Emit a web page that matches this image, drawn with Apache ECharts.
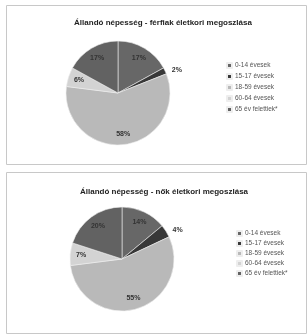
<!DOCTYPE html>
<html>
<head>
<meta charset="utf-8">
<script src="https://cdn.jsdelivr.net/npm/echarts@6/dist/echarts.min.js"></script>
<style>
    html, body { margin: 0; padding: 0; background: #fff; }
    #chart { width: 307px; height: 334px; }
</style>
</head>
<body>
<div id="chart"></div>
<script>
const korcsoportok = ['0-14 évesek', '15-17 évesek', '18-59 évesek', '60-64 évesek', '65 év felettiek*'];
const ferfiak = [17, 2, 58, 6, 17];
const nok = [14, 4, 55, 7, 20];
const szinek = ['#676767', '#383838', '#b9b9b9', '#d3d3d3', '#626262'];

function szeletek(ertekek) {
    return ertekek.map((v, i) => ({
        value: v,
        name: korcsoportok[i],
        itemStyle: { color: szinek[i] },
        label: { show: v < 5 }
    }));
}

function cimkek(ertekek) {
    return ertekek.map((v, i) => ({
        value: v,
        name: korcsoportok[i],
        label: { show: v >= 5 }
    }));
}

function pieSorozat(ertekek, center) {
    return [
        {
            type: 'pie',
            center: center,
            radius: 52,
            startAngle: 90,
            clockwise: true,
            data: szeletek(ertekek),
            label: {
                position: 'outside',
                formatter: '{c}%',
                fontSize: 7,
                fontWeight: 'bold',
                color: '#333',
                distance: 2
            },
            labelLine: { show: false, length: 2, length2: 0 },
            itemStyle: { borderColor: '#eee', borderWidth: 0.6 },
            emphasis: { disabled: true },
            silent: true
        },
        {
            type: 'pie',
            center: center,
            radius: 76,
            startAngle: 90,
            data: cimkek(ertekek),
            itemStyle: { color: 'transparent' },
            label: {
                position: 'inside',
                formatter: '{c}%',
                fontSize: 7,
                fontWeight: 'bold',
                color: '#333'
            },
            labelLine: { show: false },
            emphasis: { disabled: true },
            silent: true,
            z: 5
        }
    ];
}

const myChart = echarts.init(document.getElementById('chart'));
const option = {
    animation: false,
    textStyle: { fontFamily: 'Liberation Sans, DejaVu Sans, sans-serif' },
    graphic: [
        { type: 'rect', shape: { x: 6.5, y: 5.5, width: 300, height: 159 }, style: { fill: 'none', stroke: '#c8c8c8', lineWidth: 1 } },
        { type: 'rect', shape: { x: 6.5, y: 172.5, width: 300, height: 161 }, style: { fill: 'none', stroke: '#c8c8c8', lineWidth: 1 } }
    ],
    title: [
        {
            text: 'Állandó népesség - férfiak életkori megoszlása',
            left: 158, top: 14, textAlign: 'center',
            textStyle: { fontSize: 8, fontWeight: 'bold', color: '#222' }
        },
        {
            text: 'Állandó népesség - nők életkori megoszlása',
            left: 159, top: 183, textAlign: 'center',
            textStyle: { fontSize: 8, fontWeight: 'bold', color: '#222' }
        }
    ],
    legend: [
        {
            orient: 'vertical', left: 221, top: 57,
            data: korcsoportok, icon: 'rect', itemWidth: 5, itemHeight: 5, itemGap: 4,
            textStyle: { fontSize: 6.5, color: '#555', padding: [0, 0, 0, -2] },
            selectedMode: false
        },
        {
            orient: 'vertical', left: 231, top: 225,
            data: korcsoportok, icon: 'rect', itemWidth: 5, itemHeight: 5, itemGap: 3,
            textStyle: { fontSize: 6.5, color: '#555', padding: [0, 0, 0, -2] },
            selectedMode: false
        }
    ],
    series: [].concat(pieSorozat(ferfiak, [118, 93]), pieSorozat(nok, [122, 259]))
};
myChart.setOption(option);
</script>
</body>
</html>
